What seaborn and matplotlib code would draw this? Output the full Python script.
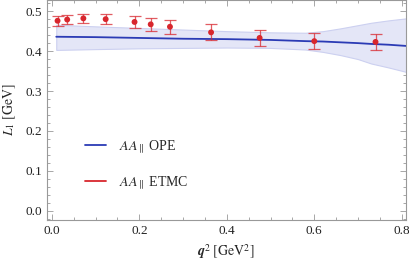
import matplotlib
matplotlib.use("Agg")
import matplotlib.pyplot as plt
from matplotlib.ticker import MultipleLocator, FormatStrFormatter
import seaborn as sns
import pandas as pd

# banda OPE (q^2, centro, limites)
bandaQ2 = [0.01, 0.1, 0.2, 0.3, 0.4, 0.5, 0.58, 0.62, 0.66, 0.70, 0.73, 0.77, 0.81]
bandaCentro = [0.436, 0.435, 0.433, 0.431, 0.430, 0.428, 0.425, 0.424, 0.422, 0.420, 0.418, 0.416, 0.413]
bandaSup = [0.466, 0.462, 0.458, 0.454, 0.450, 0.447, 0.446, 0.450, 0.457, 0.465, 0.471, 0.477, 0.482]
bandaInf = [0.403, 0.405, 0.407, 0.408, 0.409, 0.408, 0.404, 0.398, 0.390, 0.380, 0.369, 0.359, 0.348]

# puntos ETMC
etmcQ2 = [0.013, 0.035, 0.072, 0.123, 0.189, 0.226, 0.27, 0.364, 0.475, 0.60, 0.74]
etmcL1 = [0.476, 0.479, 0.482, 0.480, 0.473, 0.467, 0.461, 0.447, 0.433, 0.425, 0.423]
etmcErr = [0.012, 0.012, 0.012, 0.013, 0.015, 0.016, 0.017, 0.020, 0.019, 0.020, 0.020]

azul = "#2b3bb5"
rojo = "#d8262d"

sns.set_style("ticks")
plt.rcParams['font.family'] = ['Liberation Serif', 'DejaVu Serif']
plt.rcParams['mathtext.fontset'] = 'stix'

fig = plt.figure(figsize=(4.09, 2.69), dpi=100)
ax = fig.add_axes([0.114, 0.182, 0.879, 0.818])

# banda y linea OPE
df = pd.DataFrame({'q2': bandaQ2, 'L1': bandaCentro})
ax.fill_between(bandaQ2, bandaInf, bandaSup, color="#e4e6f7", edgecolor="#ccd0f0", linewidth=0.8, zorder=1)
sns.lineplot(data=df, x='q2', y='L1', color=azul, linewidth=1.3, ax=ax, zorder=2,
             label=r'$AA_{\parallel}$ OPE')

# puntos ETMC con barras de error
dfe = pd.DataFrame({'q2': etmcQ2, 'L1': etmcL1})
ax.errorbar(etmcQ2, etmcL1, yerr=etmcErr, fmt='none', ecolor=rojo, elinewidth=0.9,
            capsize=4, capthick=0.9, alpha=0.75, zorder=3)
sns.scatterplot(data=dfe, x='q2', y='L1', color=rojo, s=18, edgecolor='none', ax=ax, zorder=4)
ax.plot([], [], color=rojo, linewidth=1.3, label=r'$AA_{\parallel}$ ETMC')

ax.set_xlim(-0.012, 0.81)
ax.set_ylim(-0.023, 0.528)
ax.xaxis.set_major_locator(MultipleLocator(0.2))
ax.xaxis.set_minor_locator(MultipleLocator(0.05))
ax.yaxis.set_major_locator(MultipleLocator(0.1))
ax.yaxis.set_minor_locator(MultipleLocator(0.02))
ax.xaxis.set_major_formatter(FormatStrFormatter('%.1f'))
ax.yaxis.set_major_formatter(FormatStrFormatter('%.1f'))

for s in ax.spines.values():
    s.set_color("#999999")
    s.set_linewidth(0.8)
ax.tick_params(which='both', direction='in', top=True, right=True, color="#999999", labelsize=9.5,
               labelcolor='#222222', width=0.6)
ax.tick_params(which='major', length=4.5)
ax.tick_params(which='minor', length=2.2)

ax.set_xlabel(r'$\boldsymbol{q}^2\ [\mathrm{GeV}^2]$', fontsize=10, labelpad=4)
ax.set_ylabel(r'$L_1\ [\mathrm{GeV}]$', fontsize=10, labelpad=5)

ax.legend(loc='center left', bbox_to_anchor=(0.107, 0.25), frameon=False, fontsize=10,
          handlelength=1.5, labelspacing=1.35, handletextpad=0.95, borderpad=0, borderaxespad=0)

fig.savefig("out.png", dpi=100)
